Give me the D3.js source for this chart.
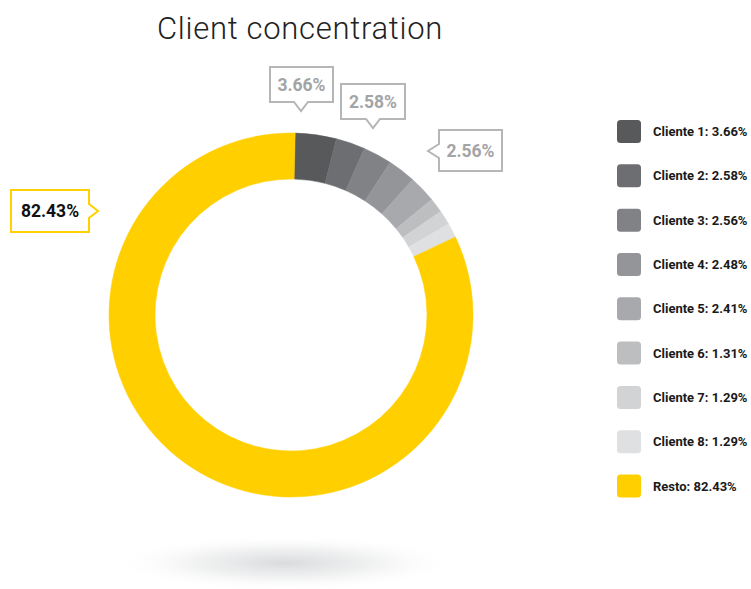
<!DOCTYPE html>
<html>
<head>
	<meta charset="utf-8">
	<title>Client concentration</title>
	<script src="https://cdn.jsdelivr.net/npm/d3@7"></script>
</head>
<style type="text/css">
body { margin: 0; background: #fff; }
svg { display: block; font-family: Roboto, "Liberation Sans", sans-serif; }
.legend text { font-size: 13px; font-weight: bold; fill: #1a1a1a; }
.callout text { font-size: 17.5px; font-weight: bold; }
</style>
<body>
</body>
</html>
<script type="text/javascript">
	// data
	var labels = ["Cliente 1", "Cliente 2", "Cliente 3", "Cliente 4", "Cliente 5", "Cliente 6", "Cliente 7", "Cliente 8", "Resto"];
	var values = [3.66, 2.58, 2.56, 2.48, 2.41, 1.31, 1.29, 1.29, 82.43];
	var colors = ["#58595b", "#6d6e71", "#808285", "#939598", "#a7a9ac", "#bcbec0", "#d1d3d4", "#dfe0e1", "#ffcf00"];

	var w = 751, h = 589;
	var cx = 291, cy = 315;
	var rOuter = 182, rInner = 136;

	var svg = d3.select("body").append("svg").attr("width", w).attr("height", h);

	// soft shadow under the ring
	var defs = svg.append("defs");
	var grad = defs.append("radialGradient").attr("id", "shadow");
	grad.append("stop").attr("offset", "0%").attr("stop-color", "#d3d4d6").attr("stop-opacity", 0.85);
	grad.append("stop").attr("offset", "50%").attr("stop-color", "#e6e7e8").attr("stop-opacity", 0.6);
	grad.append("stop").attr("offset", "100%").attr("stop-color", "#ffffff").attr("stop-opacity", 0);
	svg.append("ellipse")
		.attr("cx", 285).attr("cy", 563)
		.attr("rx", 172).attr("ry", 28)
		.attr("fill", "url(#shadow)");

	// title
	svg.append("text")
		.attr("x", 300).attr("y", 39)
		.attr("text-anchor", "middle")
		.attr("font-size", 31)
		.attr("font-weight", 300)
		.attr("letter-spacing", 0.7)
		.attr("fill", "#222")
		.text("Client concentration");

	// donut
	var rows = labels.map(function(l, i){ return {label: l, value: values[i], color: colors[i]}; });
	var start = 0.023;
	var pie = d3.pie().sort(null).value(function(d){ return d.value; })
				.startAngle(start).endAngle(start + 2 * Math.PI);
	var arc = d3.arc().innerRadius(rInner).outerRadius(rOuter);

	var g = svg.append("g").attr("transform", "translate(" + cx + "," + cy + ")");
	g.selectAll("path").data(pie(rows)).enter().append("path")
		.attr("d", arc)
		.attr("fill", function(d){ return d.data.color; })
		.attr("stroke", function(d){ return d.data.color; })
		.attr("stroke-width", 0.5);

	// legend
	var ly = d3.scalePoint().domain(labels).range([131.5, 486]);
	var legend = svg.append("g").attr("class", "legend");
	var item = legend.selectAll("g").data(rows).enter().append("g")
		.attr("transform", function(d){ return "translate(617," + ly(d.label) + ")"; });
	item.append("rect")
		.attr("x", 0).attr("y", -11.5)
		.attr("width", 24).attr("height", 23)
		.attr("rx", 3.5)
		.attr("fill", function(d){ return d.color; });
	item.append("text")
		.attr("x", 36).attr("y", 4.5)
		.text(function(d){ return d.label + ": " + d.value.toFixed(2) + "%"; });

	// callouts: box x, y, width, height, pointer side, tip position
	var callouts = [
		{i: 0, x: 270, y: 67, w: 63, h: 35, side: "bottom", tx: 301, ty: 111},
		{i: 1, x: 341, y: 84, w: 64, h: 35, side: "bottom", tx: 373, ty: 128},
		{i: 2, x: 439, y: 130, w: 63, h: 41, side: "left", tx: 428, ty: 151},
		{i: 8, x: 11, y: 190, w: 78, h: 42, side: "right", tx: 98, ty: 211}
	];
	function calloutPath(c) {
		var x0 = c.x, y0 = c.y, x1 = c.x + c.w, y1 = c.y + c.h, p = 7;
		if (c.side == "bottom") {
			return "M" + x0 + "," + y0 + "H" + x1 + "V" + y1 + "H" + (c.tx + p) +
				"L" + c.tx + "," + c.ty + "L" + (c.tx - p) + "," + y1 + "H" + x0 + "Z";
		}
		if (c.side == "left") {
			return "M" + x0 + "," + y0 + "H" + x1 + "V" + y1 + "H" + x0 + "V" + (c.ty + p) +
				"L" + c.tx + "," + c.ty + "L" + x0 + "," + (c.ty - p) + "Z";
		}
		return "M" + x0 + "," + y0 + "H" + x1 + "V" + (c.ty - p) + "L" + c.tx + "," + c.ty +
			"L" + x1 + "," + (c.ty + p) + "V" + y1 + "H" + x0 + "Z";
	}
	var co = svg.selectAll(".callout").data(callouts).enter().append("g").attr("class", "callout");
	co.append("path")
		.attr("d", calloutPath)
		.attr("fill", "#fff")
		.attr("stroke", function(c){ return c.i == 8 ? "#ffd100" : "#b5b6b8"; })
		.attr("stroke-width", 2);
	co.append("text")
		.attr("x", function(c){ return c.x + c.w / 2; })
		.attr("y", function(c){ return c.y + c.h / 2 + 6; })
		.attr("text-anchor", "middle")
		.attr("fill", function(c){ return c.i == 8 ? "#111" : "#a3a4a6"; })
		.text(function(c){ return values[c.i].toFixed(2) + "%"; });
</script>
